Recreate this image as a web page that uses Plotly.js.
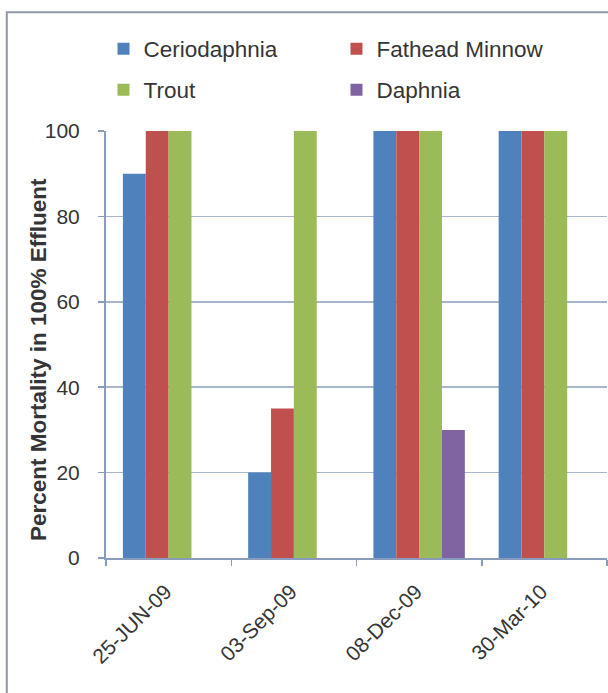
<!DOCTYPE html>
<html>
<head>
<meta charset="utf-8">
<script src="https://cdn.plot.ly/plotly-3.0.1.min.js"></script>
<style>
  html, body { margin: 0; padding: 0; background: #ffffff; }
  #chart { width: 608px; height: 693px; }
</style>
</head>
<body>
<div id="chart"></div>
<script>
// Sampling dates (categories)
const dates = ['25-JUN-09', '03-Sep-09', '08-Dec-09', '30-Mar-10'];

// Percent mortality in 100% effluent, by species
const ceriodaphnia = [90, 20, 100, 100];
const fatheadMinnow = [100, 35, 100, 100];
const trout = [100, 100, 100, 100];
const daphnia = [null, null, 30, null];

const colors = {
  ceriodaphnia: '#4f81bd',
  fathead: '#c0504d',
  trout: '#9bbb59',
  daphnia: '#8064a2'
};

const axisColor = '#8a9cbc';
const gridColor = '#a7b5cd';
const textColor = '#353535';
const font = 'Liberation Sans, Arial, sans-serif';

function barTrace(name, values, color, legend) {
  return {
    type: 'bar',
    name: name,
    x: dates,
    y: values,
    marker: { color: color, line: { width: 0 } },
    legend: legend,
    hoverinfo: 'x+y+name'
  };
}

const data = [
  barTrace('Ceriodaphnia', ceriodaphnia, colors.ceriodaphnia, 'legend'),
  barTrace('Fathead Minnow', fatheadMinnow, colors.fathead, 'legend'),
  barTrace('Trout', trout, colors.trout, 'legend2'),
  barTrace('Daphnia', daphnia, colors.daphnia, 'legend2')
];

const legendCommon = {
  orientation: 'h',
  xanchor: 'left',
  yanchor: 'middle',
  font: { family: font, size: 22.5, color: textColor },
  bgcolor: 'rgba(0,0,0,0)',
  entrywidth: 188,
  itemwidth: 30,
  traceorder: 'normal'
};

const layout = {
  width: 608,
  height: 693,
  margin: { l: 106, r: 1, t: 131, b: 135 },
  paper_bgcolor: '#ffffff',
  plot_bgcolor: '#ffffff',
  font: { family: font, color: textColor },
  barmode: 'group',
  bargap: 0.27,
  bargroupgap: 0,
  showlegend: true,
  legend: Object.assign({}, legendCommon, { x: -0.005, y: 1.192 }),
  legend2: Object.assign({}, legendCommon, { x: -0.005, y: 1.096 }),
  xaxis: {
    type: 'category',
    showline: true,
    linecolor: axisColor,
    linewidth: 2,
    ticks: 'outside',
    tickson: 'boundaries',
    ticklen: 6,
    tickcolor: axisColor,
    tickwidth: 1.5,
    tickangle: -45,
    ticklabelstandoff: 11,
    ticklabelshift: -3,
    tickfont: { family: font, size: 21, color: textColor },
    showgrid: false,
    zeroline: false
  },
  yaxis: {
    range: [0, 100],
    tickvals: [0, 20, 40, 60, 80, 100],
    showline: true,
    linecolor: axisColor,
    linewidth: 2,
    ticks: 'outside',
    ticklen: 6,
    tickcolor: axisColor,
    tickwidth: 1.5,
    ticklabelstandoff: 14,
    tickfont: { family: font, size: 21, color: textColor },
    showgrid: true,
    gridcolor: gridColor,
    gridwidth: 1.5,
    zeroline: false
  },
  annotations: [{
    text: '<b>Percent Mortality in 100% Effluent</b>',
    xref: 'paper', yref: 'paper',
    x: -0.1357, y: 0.4637,
    xanchor: 'center', yanchor: 'middle',
    textangle: -90,
    showarrow: false,
    font: { family: font, size: 22.5, color: textColor }
  }],
  shapes: [{
    // chart area frame
    type: 'rect',
    xref: 'paper', yref: 'paper',
    x0: -0.198, x1: 1.2,
    y0: -0.6, y1: 1.278,
    line: { color: '#8e98aa', width: 2 },
    fillcolor: 'rgba(0,0,0,0)',
    layer: 'below'
  }]
};

Plotly.newPlot('chart', data, layout, { displayModeBar: false, staticPlot: true });
</script>
</body>
</html>
